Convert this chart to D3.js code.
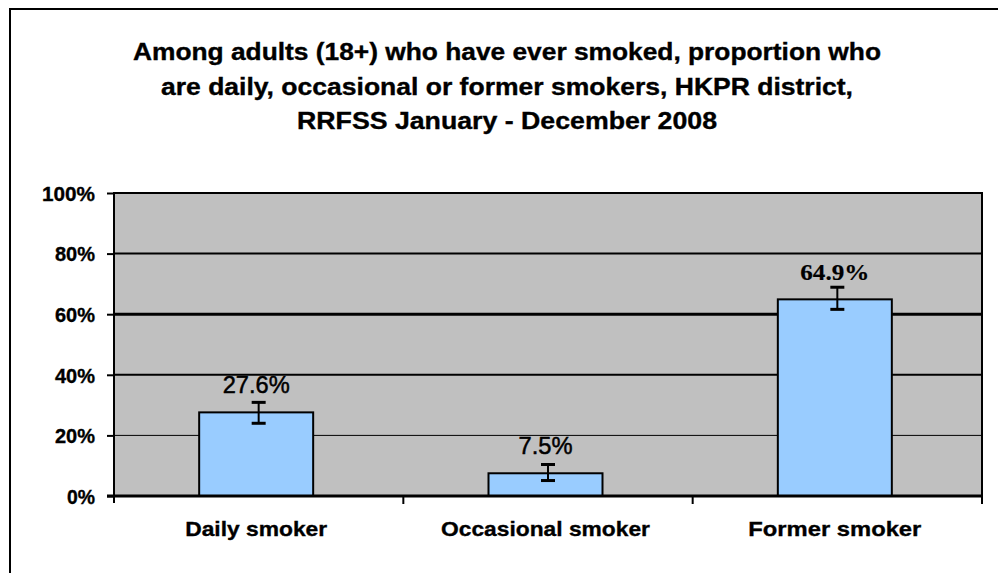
<!DOCTYPE html>
<html>
<head>
<meta charset="utf-8">
<script src="https://cdnjs.cloudflare.com/ajax/libs/d3/7.8.5/d3.min.js"></script>
<style>
  html, body { margin: 0; padding: 0; background: #fff; }
  svg { display: block; }
</style>
</head>
<body>
<svg id="chart" width="998" height="573"></svg>
<script>
// ---- data ----
const titleLines = [
  "Among adults (18+) who have ever smoked, proportion who",
  "are daily, occasional or former smokers, HKPR district,",
  "RRFSS January - December 2008"
];
const categories = ["Daily smoker", "Occasional smoker", "Former smoker"];
const values = [27.6, 7.5, 64.9];
const errLow = [24.0, 5.1, 61.6];
const errHigh = [30.9, 10.4, 68.9];
const valueLabels = ["27.6%", "7.5%", "64.9%"];
const yTicks = [0, 20, 40, 60, 80, 100];
const yTickLabels = ["0%", "20%", "40%", "60%", "80%", "100%"];

// ---- layout ----
const W = 998, H = 573;
const plot = { left: 114, right: 982, top: 193, bottom: 496 };
const barShift = -2.5;
const svg = d3.select("#chart");

const x = d3.scaleBand().domain(categories)
  .range([plot.left, plot.right]).paddingInner(0.606).paddingOuter(0.303);
const y = d3.scaleLinear().domain([0, 100]).range([plot.bottom, plot.top]);
const barCenter = c => x(c) + x.bandwidth() / 2 + barShift;

// outer border (only top and left visible)
svg.append("line").attr("x1", 9).attr("x2", W).attr("y1", 9).attr("y2", 9)
  .attr("stroke", "#000").attr("stroke-width", 2);
svg.append("line").attr("x1", 10).attr("x2", 10).attr("y1", 8).attr("y2", H)
  .attr("stroke", "#000").attr("stroke-width", 2);

const heavy = sel => sel.attr("stroke", "#000").attr("stroke-width", 0.35).attr("fill", "#000");

// title
const titleY = [60, 95, 129];
const titleWidths = [748, 692, 420];
svg.append("g").selectAll("text").data(titleLines).join("text")
  .attr("x", 507).attr("y", (d, i) => titleY[i])
  .attr("text-anchor", "middle")
  .attr("textLength", (d, i) => titleWidths[i])
  .attr("lengthAdjust", "spacingAndGlyphs")
  .style("font-family", "'Liberation Sans', Arial, sans-serif")
  .style("font-weight", "bold").style("font-size", "23px")
  .call(heavy)
  .text(d => d);

// plot background
svg.append("rect").attr("x", plot.left).attr("y", plot.top)
  .attr("width", plot.right - plot.left).attr("height", plot.bottom - plot.top)
  .attr("fill", "#C0C0C0");

// gridlines
const gridWidth = { 20: 1, 40: 2, 60: 3, 80: 2 };
svg.append("g").selectAll("line").data(yTicks.filter(t => t > 0 && t < 100)).join("line")
  .attr("x1", plot.left).attr("x2", plot.right)
  .attr("y1", d => y(d)).attr("y2", d => y(d))
  .attr("stroke", "#000").attr("stroke-width", d => gridWidth[d]);

// plot border top and right
svg.append("line").attr("x1", plot.left).attr("x2", plot.right + 1)
  .attr("y1", plot.top).attr("y2", plot.top).attr("stroke", "#000").attr("stroke-width", 2);
svg.append("line").attr("x1", plot.right).attr("x2", plot.right)
  .attr("y1", plot.top).attr("y2", plot.bottom).attr("stroke", "#000").attr("stroke-width", 2);

// bars
svg.append("g").selectAll("rect").data(values).join("rect")
  .attr("x", (d, i) => x(categories[i]) + barShift)
  .attr("y", d => y(d))
  .attr("width", x.bandwidth())
  .attr("height", d => y(0) - y(d))
  .attr("fill", "#99CCFF").attr("stroke", "#000").attr("stroke-width", 2);

// error bars (centred on the category band)
const eg = svg.append("g");
categories.forEach((c, i) => {
  const cx = x(c) + x.bandwidth() / 2;
  eg.append("line").attr("x1", cx).attr("x2", cx)
    .attr("y1", y(errHigh[i])).attr("y2", y(errLow[i]))
    .attr("stroke", "#000").attr("stroke-width", 2);
  [errHigh[i], errLow[i]].forEach(v => {
    eg.append("line").attr("x1", cx - 7).attr("x2", cx + 7)
      .attr("y1", y(v)).attr("y2", y(v))
      .attr("stroke", "#000").attr("stroke-width", 3);
  });
});

// value labels
const labelFonts = [
  { fam: "Liberation Sans, Arial, sans-serif", w: "normal", len: 67, sw: 0.5 },
  { fam: "Liberation Sans, Arial, sans-serif", w: "normal", len: 54, sw: 0.5 },
  { fam: "Liberation Serif, DejaVu Serif, Times New Roman, serif", w: "bold", len: 69, sw: 0.2 }
];
svg.append("g").selectAll("text").data(valueLabels).join("text")
  .attr("x", (d, i) => barCenter(categories[i]))
  .attr("y", (d, i) => y(values[i]) - 19)
  .attr("text-anchor", "middle")
  .attr("textLength", (d, i) => labelFonts[i].len)
  .attr("lengthAdjust", "spacingAndGlyphs")
  .attr("font-family", (d, i) => labelFonts[i].fam)
  .attr("font-weight", (d, i) => labelFonts[i].w)
  .attr("font-size", 24)
  .attr("stroke", "#000").attr("stroke-width", (d, i) => labelFonts[i].sw).attr("fill", "#000")
  .text(d => d);

// y axis
const yAxis = d3.axisLeft(y).tickValues(yTicks)
  .tickFormat((d, i) => yTickLabels[i]).tickSize(7).tickPadding(12);
const ya = svg.append("g").attr("transform", `translate(${plot.left},0)`).call(yAxis);
ya.select(".domain").remove();
ya.selectAll(".tick line").attr("stroke", "#000").attr("stroke-width", 2);
ya.selectAll(".tick text")
  .style("font-family", "'Liberation Sans', Arial, sans-serif")
  .style("font-weight", "bold").style("font-size", "20px")
  .attr("dy", "0.36em")
  .attr("textLength", d => d === 100 ? 53 : (d === 0 ? 28 : 40))
  .attr("lengthAdjust", "spacingAndGlyphs")
  .call(heavy);
svg.append("line").attr("x1", plot.left).attr("x2", plot.left)
  .attr("y1", plot.top - 1).attr("y2", plot.bottom + 7)
  .attr("stroke", "#000").attr("stroke-width", 2);

// x axis
svg.append("line").attr("x1", plot.left - 7).attr("x2", plot.right + 1)
  .attr("y1", plot.bottom).attr("y2", plot.bottom)
  .attr("stroke", "#000").attr("stroke-width", 3);
const boundaries = categories.map(c => x(c) - x.step() * x.paddingInner() / 2).concat([plot.right]);
svg.append("g").selectAll("line").data(boundaries.slice(1)).join("line")
  .attr("x1", d => d).attr("x2", d => d)
  .attr("y1", plot.bottom).attr("y2", plot.bottom + 8)
  .attr("stroke", "#000").attr("stroke-width", 2);

const catWidths = [142, 209, 173];
svg.append("g").selectAll("text").data(categories).join("text")
  .attr("x", d => barCenter(d))
  .attr("y", 536)
  .attr("text-anchor", "middle")
  .attr("textLength", (d, i) => catWidths[i])
  .attr("lengthAdjust", "spacingAndGlyphs")
  .style("font-family", "'Liberation Sans', Arial, sans-serif")
  .style("font-weight", "bold").style("font-size", "21px")
  .call(heavy)
  .text(d => d);
</script>
</body>
</html>
